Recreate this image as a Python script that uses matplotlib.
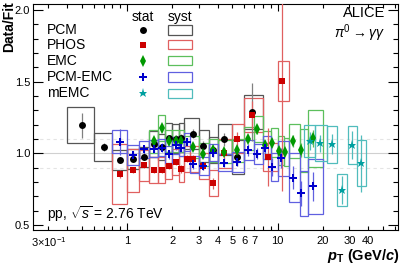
import numpy as np
import matplotlib
matplotlib.use('Agg')
import matplotlib.pyplot as plt
from matplotlib.patches import Rectangle
from matplotlib.ticker import FixedLocator, FuncFormatter, MultipleLocator

plt.rcParams['font.family'] = ['Liberation Sans', 'DejaVu Sans']
plt.rcParams['mathtext.fontset'] = 'custom'
plt.rcParams['mathtext.rm'] = 'Liberation Sans'
plt.rcParams['mathtext.it'] = 'Liberation Sans:italic'
plt.rcParams['mathtext.bf'] = 'Liberation Sans:bold'
plt.rcParams['mathtext.bfit'] = 'Liberation Sans:bold:italic'

# ---------------- data ----------------
pcm_pt = [0.5, 0.7, 0.9, 1.1, 1.3, 1.5, 1.7, 1.9, 2.1, 2.3, 2.75, 3.2, 3.7, 4.4, 5.4, 6.75]
pcm_val = [1.195, 1.044, 0.951, 0.962, 0.974, 1.067, 1.044, 1.109, 1.102, 1.109, 1.137, 1.051, 1.021, 1.098, 0.974, 1.288]
pcm_stat = [0.085, 0.025, 0.02, 0.015, 0.015, 0.02, 0.02, 0.02, 0.025, 0.025, 0.03, 0.035, 0.04, 0.045, 0.06, 0.2]
pcm_syst = [0.125, 0.10, 0.07, 0.07, 0.07, 0.09, 0.09, 0.10, 0.10, 0.10, 0.11, 0.11, 0.09, 0.11, 0.12, 0.12]
pcm_lo = [0.4, 0.6, 0.8, 1.0, 1.2, 1.4, 1.6, 1.8, 2.0, 2.2, 2.4, 3.0, 3.5, 4.0, 5.0, 6.0]
pcm_hi = [0.6, 0.8, 1.0, 1.2, 1.4, 1.6, 1.8, 2.0, 2.2, 2.4, 3.0, 3.5, 4.0, 5.0, 6.0, 8.0]

phos_pt = [0.9, 1.1, 1.3, 1.5, 1.7, 1.9, 2.1, 2.3, 2.5, 2.75, 3.2, 3.7, 4.4, 5.4, 6.75, 8.7, 10.7]
phos_val = [0.855, 0.882, 0.916, 0.884, 0.884, 0.909, 0.939, 0.891, 0.962, 0.962, 0.911, 0.791, 1.0, 1.102, 1.267, 0.974, 1.504]
phos_stat = [0.03, 0.02, 0.02, 0.02, 0.02, 0.02, 0.02, 0.025, 0.025, 0.025, 0.03, 0.04, 0.04, 0.05, 0.1, 0.2, 0.77]
phos_syst = [0.21, 0.15, 0.11, 0.09, 0.09, 0.09, 0.09, 0.09, 0.09, 0.09, 0.09, 0.09, 0.10, 0.10, 0.12, 0.10, 0.14]
phos_lo = [0.8, 1.0, 1.2, 1.4, 1.6, 1.8, 2.0, 2.2, 2.4, 2.6, 3.0, 3.5, 4.0, 5.0, 6.0, 8.0, 10.0]
phos_hi = [1.0, 1.2, 1.4, 1.6, 1.8, 2.0, 2.2, 2.4, 2.6, 3.0, 3.5, 4.0, 5.0, 6.0, 8.0, 10.0, 12.0]

emc_pt = [1.5, 1.7, 1.9, 2.1, 2.3, 2.75, 3.2, 3.7, 4.4, 5.4, 6.35, 7.35, 8.3, 9.25, 10.3, 11.2, 12.6, 14.4, 17.3]
emc_val = [1.085, 1.178, 1.086, 1.086, 1.086, 1.044, 0.993, 1.02, 1.01, 1.02, 1.103, 1.167, 1.058, 1.074, 1.018, 1.009, 1.086, 1.021, 1.105]
emc_stat = [0.02, 0.03, 0.02, 0.02, 0.02, 0.02, 0.02, 0.025, 0.02, 0.02, 0.025, 0.03, 0.03, 0.03, 0.03, 0.03, 0.04, 0.05, 0.06]
emc_syst = [0.08, 0.09, 0.08, 0.08, 0.08, 0.08, 0.08, 0.08, 0.08, 0.08, 0.08, 0.09, 0.10, 0.10, 0.10, 0.10, 0.12, 0.15, 0.20]
emc_lo = [1.4, 1.6, 1.8, 2.0, 2.2, 2.4, 3.0, 3.5, 4.0, 5.0, 6.0, 7.0, 8.0, 9.0, 10.0, 11.0, 12.0, 14.0, 16.0]
emc_hi = [1.6, 1.8, 2.0, 2.2, 2.4, 3.0, 3.5, 4.0, 5.0, 6.0, 7.0, 8.0, 9.0, 10.0, 11.0, 12.0, 14.0, 16.0, 20.0]

pe_pt = [0.9, 1.1, 1.3, 1.5, 1.7, 1.9, 2.1, 2.3, 2.5, 2.75, 3.2, 3.7, 4.4, 5.4, 6.35, 7.35, 8.3, 9.25, 10.6, 12.6, 14.4, 17.3]
pe_val = [1.08, 0.986, 1.028, 1.032, 1.039, 0.993, 1.056, 1.039, 1.079, 0.923, 0.911, 1.004, 0.935, 0.939, 1.023, 0.997, 1.04, 0.905, 0.965, 0.83, 0.72, 0.77]
pe_stat = [0.09, 0.03, 0.03, 0.03, 0.03, 0.03, 0.03, 0.03, 0.03, 0.03, 0.03, 0.03, 0.03, 0.03, 0.04, 0.04, 0.05, 0.06, 0.07, 0.08, 0.09, 0.10]
pe_syst = [0.08, 0.07, 0.06, 0.06, 0.06, 0.06, 0.06, 0.06, 0.06, 0.06, 0.06, 0.06, 0.06, 0.07, 0.07, 0.07, 0.08, 0.10, 0.12, 0.17, 0.16, 0.19]
pe_lo = [0.8, 1.0, 1.2, 1.4, 1.6, 1.8, 2.0, 2.2, 2.4, 2.6, 3.0, 3.5, 4.0, 5.0, 6.0, 7.0, 8.0, 9.0, 10.0, 12.0, 14.0, 16.0]
pe_hi = [1.0, 1.2, 1.4, 1.6, 1.8, 2.0, 2.2, 2.4, 2.6, 3.0, 3.5, 4.0, 5.0, 6.0, 7.0, 8.0, 9.0, 10.0, 12.0, 14.0, 16.0, 20.0]

memc_pt = [16.4, 19.1, 22.9, 26.7, 31.1, 35.8]
memc_val = [1.086, 1.07, 1.063, 0.744, 1.058, 0.93]
memc_stat = [0.06, 0.06, 0.07, 0.10, 0.10, 0.20]
memc_syst = [0.11, 0.125, 0.13, 0.11, 0.13, 0.16]
memc_lo = [15.0, 17.8, 21.2, 25.0, 29.5, 34.0]
memc_hi = [17.8, 21.2, 25.0, 29.0, 34.0, 38.7]

labels = ['PCM', 'PHOS', 'EMC', 'PCM-EMC', 'mEMC']
xtick_labels = {0.3: r'$3{\times}10^{-1}$', 1: '1', 2: '2', 3: '3', 4: '4', 5: '5',
                6: '6', 7: '7', 10: '10', 20: '20', 30: '30', 40: '40'}

# ---------------- styles ----------------
series = [
    dict(pt=pcm_pt, val=pcm_val, stat=pcm_stat, syst=pcm_syst, lo=pcm_lo, hi=pcm_hi,
         mc='black', bc='#555555', ec='#808080', marker='o', ms=5.0),
    dict(pt=phos_pt, val=phos_val, stat=phos_stat, syst=phos_syst, lo=phos_lo, hi=phos_hi,
         mc='#cc0000', bc='#e06060', ec='#e06060', marker='s', ms=4.6),
    dict(pt=emc_pt, val=emc_val, stat=emc_stat, syst=emc_syst, lo=emc_lo, hi=emc_hi,
         mc='#009900', bc='#5cbf5c', ec='#5cbf5c', marker='d', ms=5.8),
    dict(pt=pe_pt, val=pe_val, stat=pe_stat, syst=pe_syst, lo=pe_lo, hi=pe_hi,
         mc='#0000cc', bc='#6060e0', ec='#6060e0', marker='P', ms=5.6),
    dict(pt=memc_pt, val=memc_val, stat=memc_stat, syst=memc_syst, lo=memc_lo, hi=memc_hi,
         mc='#00a0a0', bc='#50bcbc', ec='#50bcbc', marker='*', ms=6.5),
]

W, H = 407, 264
fig = plt.figure(figsize=(W / 100, H / 100), dpi=100)
ax = fig.add_axes([33 / W, 1 - 230 / H, 365 / W, 226 / H])
ax.set_xscale('log')
ax.set_xlim(0.237, 63.2)
ax.set_ylim(0.465, 2.042)

# reference lines
ax.axhline(1.0, color='#d0d0d0', lw=0.8, zorder=0)
for yy in (0.9, 1.1):
    ax.axhline(yy, color='#e4e4e4', lw=0.8, ls=(0, (3, 3)), zorder=0)

for s in series:
    for x, v, st, sy, lo, hi in zip(s['pt'], s['val'], s['stat'], s['syst'], s['lo'], s['hi']):
        ax.add_patch(Rectangle((lo, v - sy), hi - lo, 2 * sy, fill=False,
                               edgecolor=s['bc'], lw=0.9, zorder=2))
for s in series:
    pt = np.array(s['pt']); val = np.array(s['val']); st = np.array(s['stat'])
    ax.vlines(pt, val - st, val + st, colors=s['ec'], lw=0.9, zorder=3)
for s in series:
    ax.plot(s['pt'], s['val'], ls='none', marker=s['marker'], color=s['mc'],
            ms=s['ms'], mew=0, zorder=4)

# ticks
ax.xaxis.set_major_locator(FixedLocator([1, 10]))
minor = [0.3, 0.4, 0.5, 0.6, 0.7, 0.8, 0.9, 2, 3, 4, 5, 6, 7, 8, 9, 20, 30, 40, 50, 60]
ax.xaxis.set_minor_locator(FixedLocator(minor))
fmt = FuncFormatter(lambda v, p: xtick_labels.get(round(v, 3) if v < 1 else int(round(v)), ''))
ax.xaxis.set_major_formatter(fmt)
ax.xaxis.set_minor_formatter(fmt)
ax.yaxis.set_major_locator(FixedLocator([0.5, 1.0, 1.5, 2.0]))
ax.yaxis.set_major_formatter(FuncFormatter(lambda v, p: f'{v:.1f}'))
ax.yaxis.set_minor_locator(MultipleLocator(0.1))
ax.tick_params(which='both', direction='in', top=True, right=True, labelsize=8, width=0.8)
ax.tick_params(axis='x', which='major', length=5, pad=4)
ax.tick_params(axis='x', which='minor', length=3, pad=4)
ax.tick_params(axis='y', which='major', length=7, pad=2)
ax.tick_params(axis='y', which='minor', length=3.5, pad=2)
for sp in ax.spines.values():
    sp.set_linewidth(0.8)

# labels
fig.text(0.004, 0.995, 'Data/Fit', rotation=90, ha='left', va='top', fontsize=10, fontweight='bold')
fig.text(400 / W, 1 - 256 / H, r'$\mathbfit{p}_{\mathbf{T}}$ (GeV/$\mathbfit{c}$)', ha='right', va='center',
         fontsize=10.5, fontweight='bold')

# legend
tr = ax.transAxes
ax.text(0.301, 0.942, 'stat', transform=tr, ha='center', va='center', fontsize=10)
ax.text(0.403, 0.942, 'syst', transform=tr, ha='center', va='center', fontsize=10)
rows = [0.885, 0.819, 0.748, 0.677, 0.606]
for lab, s, ry in zip(labels, series, rows):
    ax.text(0.038, ry, lab, transform=tr, ha='left', va='center', fontsize=10)
    ax.plot([0.301], [ry], transform=tr, marker=s['marker'], color=s['mc'], ms=s['ms'], mew=0,
            ls='none', clip_on=False)
    ax.add_patch(Rectangle((0.370, ry - 0.02), 0.066, 0.04, transform=tr, fill=False,
                           edgecolor=s['bc'], lw=0.9))

ax.text(0.964, 0.958, 'ALICE', transform=tr, ha='right', va='center', fontsize=10.5)
ax.text(0.964, 0.872, r'$\pi^{0}\rightarrow\gamma\gamma$', transform=tr, ha='right', va='center', fontsize=10)
ax.text(0.038, 0.071, r'pp, $\sqrt{s}$ = 2.76 TeV', transform=tr, ha='left', va='center', fontsize=10)

fig.savefig('out.png', dpi=100)
